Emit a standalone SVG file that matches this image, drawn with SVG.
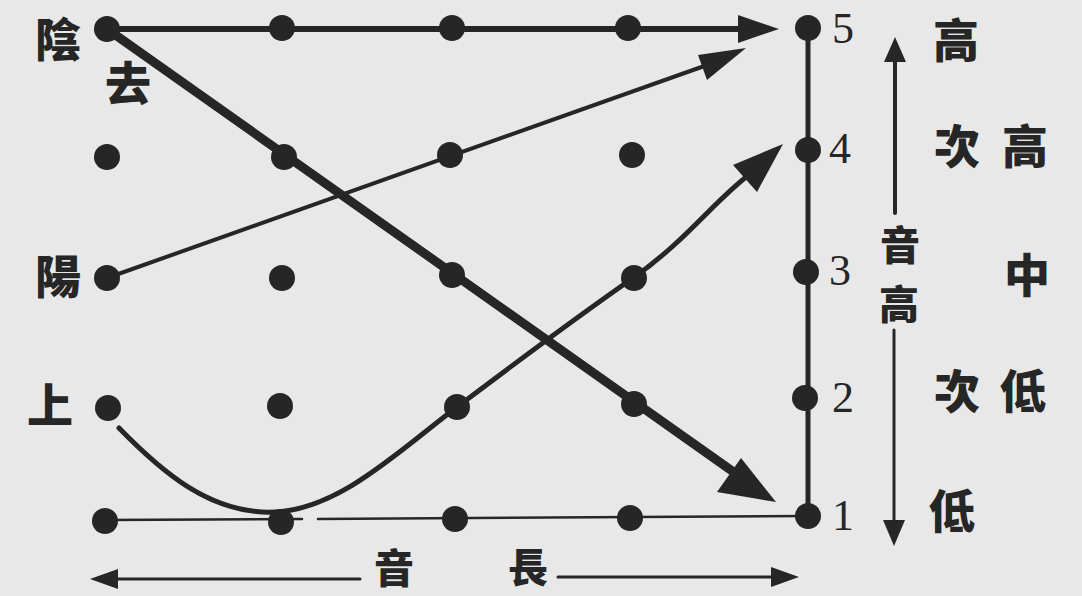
<svg xmlns="http://www.w3.org/2000/svg" width="1082" height="596" viewBox="0 0 1082 596">
<style>
.dot{fill:#262626}
.ln{stroke:#262626;fill:none;stroke-linecap:round}
.ah{fill:#262626}
.cj{font-family:"Noto Sans CJK TC","Noto Sans CJK SC",sans-serif;font-weight:900;font-size:46px;fill:#262626;text-anchor:middle;dominant-baseline:central}
.sm{font-size:40px}
.num{font-family:"Liberation Serif",serif;font-size:44px;fill:#262626;text-anchor:middle;dominant-baseline:central}
</style>
<rect width="1082" height="596" fill="#e7e8e7"/>
<g id="connectors">
  <!-- 陰平 -->
  <line class="ln" x1="107" y1="29" x2="745" y2="29" stroke-width="6"/>
  <polygon class="ah" points="779,29 738,15 738,43"/>
  <!-- 陽平 -->
  <line class="ln" x1="107" y1="278" x2="710" y2="64" stroke-width="4"/>
  <polygon class="ah" points="746,48 707,80 698,55"/>
  <!-- 去 -->
  <line class="ln" x1="107" y1="29" x2="735" y2="473" stroke-width="9"/>
  <polygon class="ah" points="776,502 717,492 741,458"/>
  <!-- 上 -->
  <path class="ln" d="M119,428 C160,470 210,515 275,512 C340,509 400,450 457,407 S580,315 633,278 S715,200 750,174" stroke-width="5"/>
  <polygon class="ah" points="783,144 757,192 733,165"/>
  <!-- bottom line -->
  <line class="ln" x1="105" y1="520" x2="302" y2="519" stroke-width="2.5"/>
  <line class="ln" x1="318" y1="519" x2="808" y2="516" stroke-width="2.5"/>
  <!-- pitch axis -->
  <line class="ln" x1="808" y1="29" x2="808" y2="516" stroke-width="5"/>
  <!-- right arrows -->
  <line class="ln" x1="895" y1="213" x2="895" y2="60" stroke-width="4"/>
  <polygon class="ah" points="895,37 884,62 906,62"/>
  <line class="ln" x1="894" y1="330" x2="894" y2="522" stroke-width="3"/>
  <polygon class="ah" points="894,546 883,520 905,520"/>
  <!-- bottom arrows -->
  <line class="ln" x1="360" y1="579" x2="115" y2="579" stroke-width="3"/>
  <polygon class="ah" points="90,579 118,569 118,589"/>
  <line class="ln" x1="558" y1="577" x2="776" y2="577" stroke-width="3"/>
  <polygon class="ah" points="799,577 771,567 771,587"/>
</g>
<g id="dots">
  <circle class="dot" cx="107" cy="29" r="13"/>
  <circle class="dot" cx="282" cy="28" r="13"/>
  <circle class="dot" cx="452" cy="28" r="13"/>
  <circle class="dot" cx="628" cy="28" r="13"/>
  <circle class="dot" cx="808" cy="28" r="13"/>
  <circle class="dot" cx="107" cy="157" r="13"/>
  <circle class="dot" cx="284" cy="157" r="13"/>
  <circle class="dot" cx="450" cy="155" r="13"/>
  <circle class="dot" cx="632" cy="155" r="13"/>
  <circle class="dot" cx="808" cy="150" r="13"/>
  <circle class="dot" cx="107" cy="278" r="13"/>
  <circle class="dot" cx="282" cy="278" r="13"/>
  <circle class="dot" cx="452" cy="275" r="13"/>
  <circle class="dot" cx="634" cy="278" r="13"/>
  <circle class="dot" cx="806" cy="272" r="13"/>
  <circle class="dot" cx="108" cy="408" r="13"/>
  <circle class="dot" cx="280" cy="406" r="13"/>
  <circle class="dot" cx="457" cy="407" r="13"/>
  <circle class="dot" cx="634" cy="404" r="13"/>
  <circle class="dot" cx="805" cy="398" r="13"/>
  <circle class="dot" cx="105" cy="521" r="13"/>
  <circle class="dot" cx="281" cy="522" r="13"/>
  <circle class="dot" cx="455" cy="519" r="13"/>
  <circle class="dot" cx="630" cy="518" r="13"/>
  <circle class="dot" cx="808" cy="516" r="13"/>
</g>
<g id="labels-left">
  <text class="cj" x="58" y="36">陰</text>
  <text class="cj" x="128" y="80">去</text>
  <text class="cj" x="58" y="273">陽</text>
  <text class="cj" x="50" y="402">上</text>
</g>
<g id="pitch-numbers">
  <text class="num" x="843" y="28">5</text>
  <text class="num" x="840" y="148">4</text>
  <text class="num" x="840" y="270">3</text>
  <text class="num" x="843" y="397">2</text>
  <text class="num" x="843" y="515">1</text>
</g>
<g id="labels-right">
  <text class="cj" x="956" y="37">高</text>
  <text class="cj" x="957" y="143">次</text>
  <text class="cj" x="1025" y="143">高</text>
  <text class="cj sm" x="900" y="243">音</text>
  <text class="cj" x="1027" y="272">中</text>
  <text class="cj sm" x="899" y="302">高</text>
  <text class="cj" x="957" y="388">次</text>
  <text class="cj" x="1023" y="388">低</text>
  <text class="cj" x="952" y="508">低</text>
</g>
<g id="labels-bottom">
  <text class="cj sm" x="394" y="566">音</text>
  <text class="cj sm" x="528" y="565">長</text>
</g>
</svg>
